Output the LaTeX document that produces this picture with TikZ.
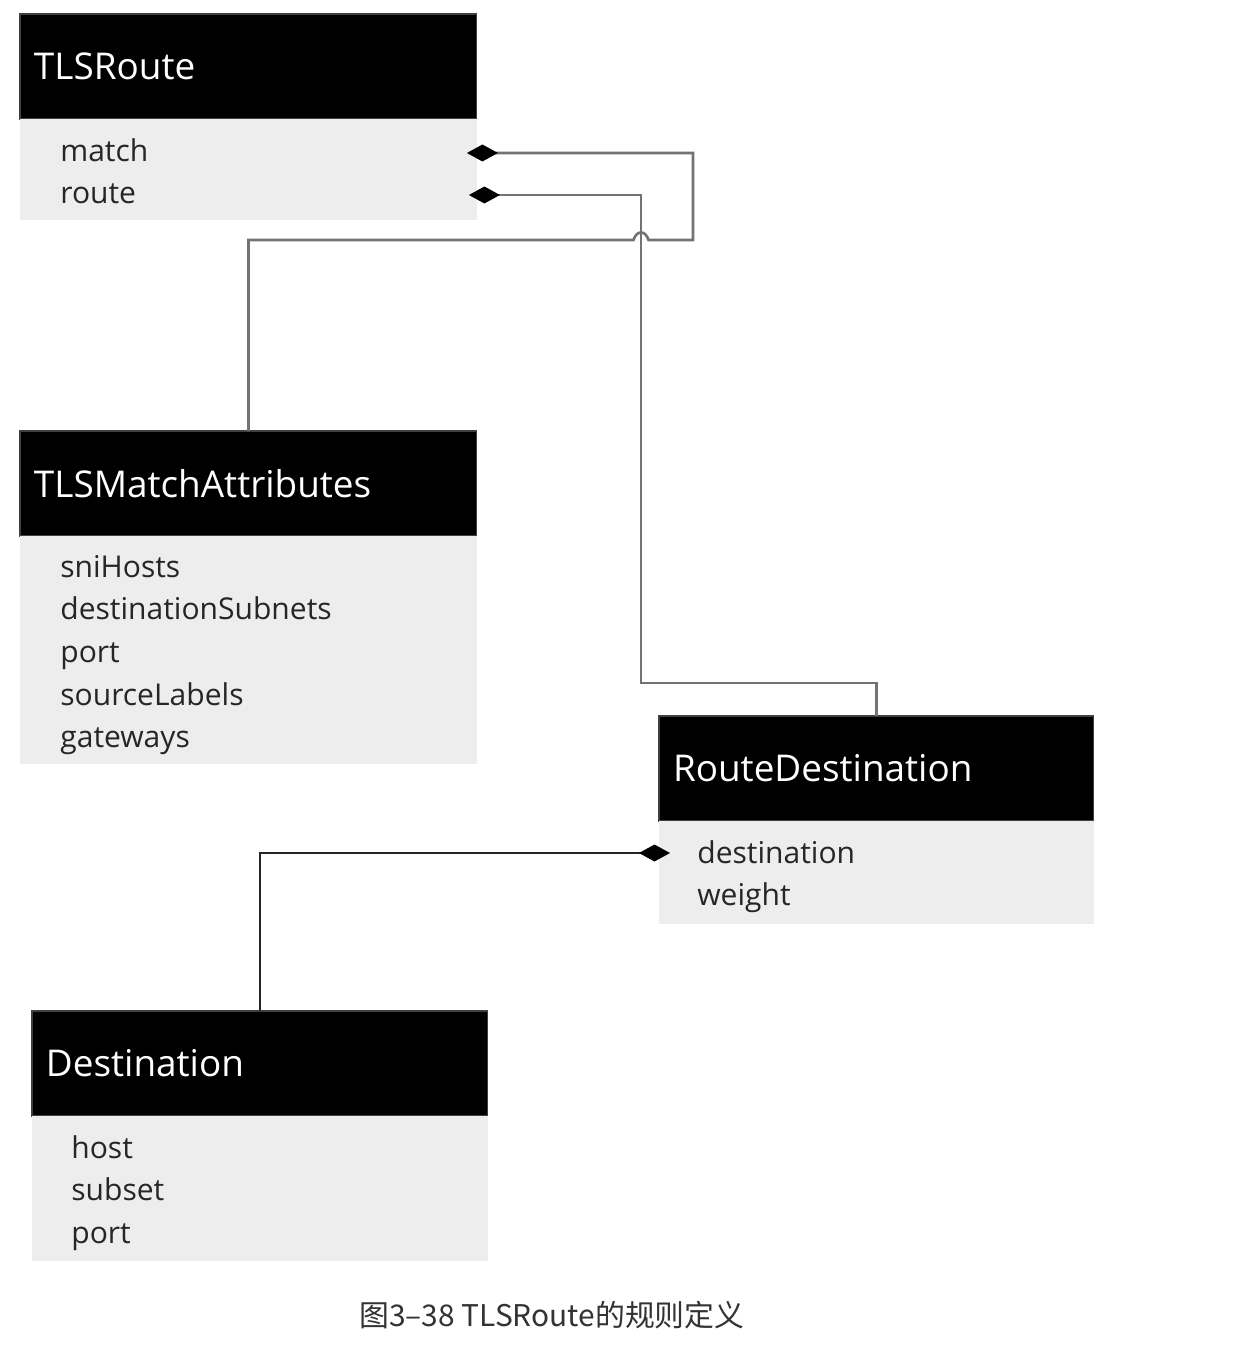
\documentclass[tikz,border=0pt]{standalone}
\usepackage{fontspec}
\setmainfont{Open Sans}
\newfontfamily\cjkfont{Noto Sans CJK SC}
\usetikzlibrary{positioning,arrows.meta}

\begin{document}
\begin{tikzpicture}[x=0.02cm,y=-0.02cm,
  head/.style={fill=black,draw=black!75,line width=0.6pt,text=white,anchor=north west,
    minimum height=2.1cm,inner xsep=0.28cm,outer sep=0pt,align=left,
    font=\fontsize{21}{24}\selectfont},
  body/.style={fill=black!7,inner sep=0pt,outer sep=0pt},
  item/.style={inner sep=0pt,minimum height=0.84cm,text height=0.9em,text depth=0.2em,
    font=\fontsize{17.1}{20}\selectfont,text=black!85},
  link/.style={draw=black!55,line width=1.5pt},
  own/.style={{Diamond[length=0.62cm,width=0.34cm,color=black,fill=black]}-}]
  \useasboundingbox[fill=white] (0,0) rectangle (1236,1358);

  % TLSRoute
  \node[head,text width=8.58cm] (tlsroute) at (20,14) {TLSRoute};
  \node[body,minimum width=9.14cm,minimum height=2.02cm,below=0pt of tlsroute] (tlsroutebody) {};
  \node[item,anchor=west] (match) at ([xshift=0.8cm,yshift=-0.72cm]tlsroute.south west) {match};
  \node[item,below=0pt of match.south west,anchor=north west] (route) {route};

  % TLSMatchAttributes
  \node[head,text width=8.58cm] (tlsmatch) at (20,431) {TLSMatchAttributes};
  \node[body,minimum width=9.14cm,minimum height=4.56cm,below=0pt of tlsmatch] (tlsmatchbody) {};
  \node[item,anchor=west] (snihosts) at ([xshift=0.8cm,yshift=-0.7cm]tlsmatch.south west) {sniHosts};
  \node[item,below=0pt of snihosts.south west,anchor=north west] (subnets) {destinationSubnets};
  \node[item,below=0pt of subnets.south west,anchor=north west] (matchport) {port};
  \node[item,below=0pt of matchport.south west,anchor=north west] (labels) {sourceLabels};
  \node[item,below=0pt of labels.south west,anchor=north west] (gateways) {gateways};

  % RouteDestination
  \node[head,text width=8.14cm] (routedest) at (659,716) {RouteDestination};
  \node[body,minimum width=8.7cm,minimum height=2.06cm,below=0pt of routedest] (routedestbody) {};
  \node[item,anchor=west] (destination) at ([xshift=0.76cm,yshift=-0.72cm]routedest.south west) {destination};
  \node[item,below=0pt of destination.south west,anchor=north west] (weight) {weight};

  % Destination
  \node[head,text width=8.56cm] (dest) at (32,1011) {Destination};
  \node[body,minimum width=9.12cm,minimum height=2.9cm,below=0pt of dest] (destbody) {};
  \node[item,anchor=west] (host) at ([xshift=0.78cm,yshift=-0.72cm]dest.south west) {host};
  \node[item,below=0pt of host.south west,anchor=north west] (subset) {subset};
  \node[item,below=0pt of subset.south west,anchor=north west] (destport) {port};

  % connector ends
  \coordinate (matchtip) at ([xshift=-0.2cm]tlsroutebody.east |- 0,153);
  \coordinate (routetip) at ([xshift=-0.16cm]tlsroutebody.east |- 0,195);
  \coordinate (desttip) at ([xshift=0.22cm]routedestbody.west |- 0,853);
  \coordinate (matchturn) at (693,240);
  \coordinate (routeturn) at (641,683);
  \coordinate (hopr) at ([xshift=0.15cm]routeturn |- matchturn);
  \coordinate (hopl) at ([xshift=-0.15cm]routeturn |- matchturn);

  \draw[link,own] (matchtip) -| (matchturn) -- (hopr)
    .. controls +(-3,-10) and +(3,-10) .. (hopl) -| (tlsmatch.north);
  \draw[link,own] (routetip) -| (routeturn) -| (routedest.north);
  \draw[link,own,draw=black!85,line width=1.2pt] (desttip) -| (dest.north);

  \node[font=\cjkfont\fontsize{17}{20}\selectfont,text=black!80] (caption) at (552,1315)
    {图3–38 TLSRoute的规则定义};
\end{tikzpicture}
\end{document}
